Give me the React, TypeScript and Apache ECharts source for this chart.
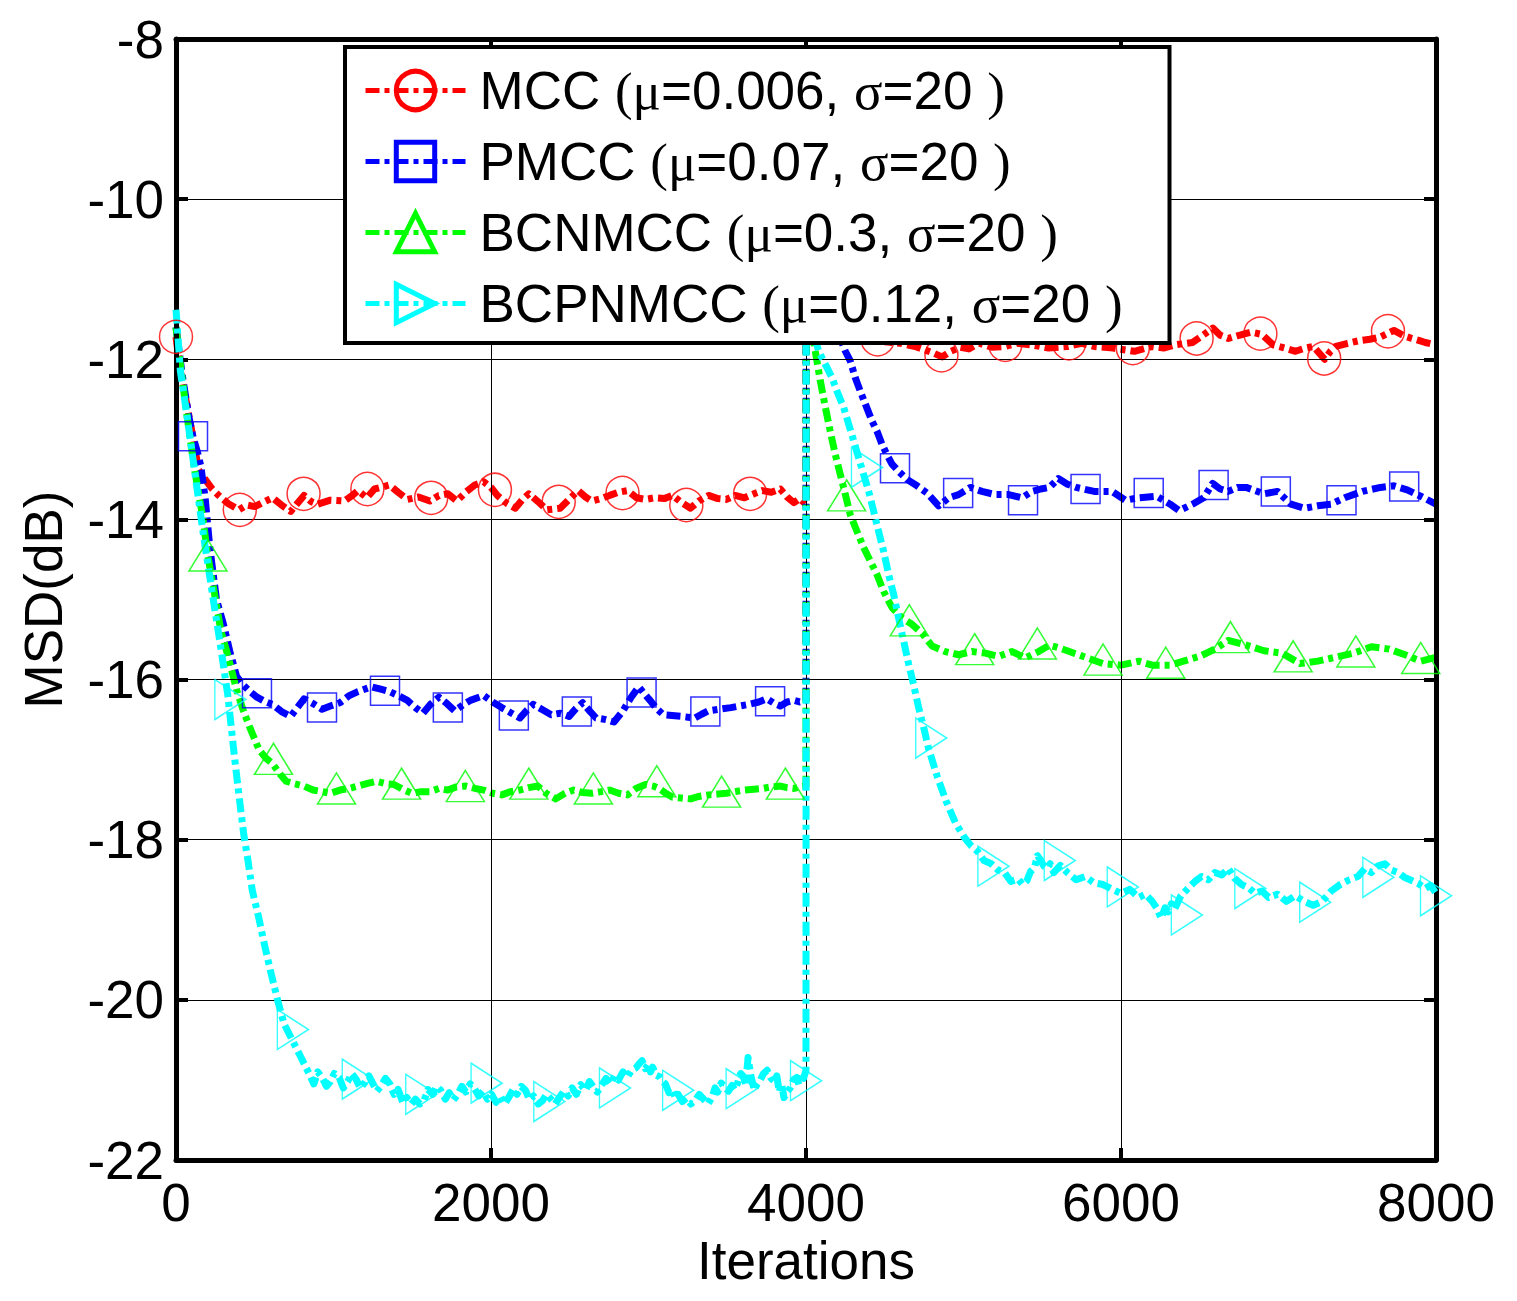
import React, { useEffect, useRef } from 'react';
import * as echarts from 'echarts';

const SERIES_NAMES = [
  'MCC (μ=0.006, σ=20 )',
  'PMCC (μ=0.07, σ=20 )',
  'BCNMCC (μ=0.3, σ=20 )',
  'BCPNMCC (μ=0.12, σ=20 )',
];
const COLORS = ['#ff0000', '#0000ff', '#00ff00', '#00ffff'];
const X_MIN = 0;
const X_MAX = 8000;
const X_STEP = 2000;
const Y_MIN = -22;
const Y_MAX = -8;
const Y_STEP = 2;
const X_NAME = 'Iterations';
const Y_NAME = 'MSD(dB)';

const MCC_CURVE: number[][] = [
  [0, -11.72], [28, -12.15], [71, -12.59], [110, -13.0], [143, -13.38], [185, -13.5], [230, -13.62], [271, -13.7],
  [330, -13.8], [400, -13.88], [450, -13.82], [500, -13.84], [560, -13.78], [613, -13.73], [670, -13.82], [728, -13.9],
  [770, -13.8], [813, -13.7], [860, -13.78], [899, -13.81], [980, -13.76], [1070, -13.77], [1120, -13.7], [1155, -13.64],
  [1212, -13.73], [1260, -13.62], [1300, -13.6], [1355, -13.57], [1410, -13.66], [1469, -13.75], [1540, -13.72],
  [1612, -13.77], [1670, -13.7], [1726, -13.68], [1783, -13.77], [1840, -13.66], [1897, -13.57], [1954, -13.53],
  [2000, -13.6], [2040, -13.7], [2100, -13.8], [2154, -13.86], [2200, -13.75], [2240, -13.68], [2300, -13.78],
  [2354, -13.88], [2439, -13.86], [2500, -13.74], [2553, -13.64], [2600, -13.72], [2639, -13.77], [2700, -13.74],
  [2753, -13.7], [2810, -13.66], [2867, -13.64], [2924, -13.73], [2980, -13.75], [3038, -13.73], [3100, -13.74],
  [3153, -13.7], [3210, -13.79], [3267, -13.86], [3320, -13.77], [3381, -13.7], [3440, -13.74], [3495, -13.75],
  [3550, -13.7], [3609, -13.73], [3670, -13.68], [3723, -13.64], [3780, -13.66], [3837, -13.62], [3880, -13.72],
  [3923, -13.79], [3960, -13.74], [4000, -13.81],
  [4001, -10.6], [4050, -10.9], [4100, -11.15], [4200, -11.45], [4300, -11.62], [4400, -11.72], [4500, -11.78],
  [4600, -11.8], [4693, -11.84], [4750, -11.88], [4807, -11.92], [4864, -11.97], [4920, -11.9], [4980, -11.85],
  [5034, -11.87], [5100, -11.8], [5180, -11.85], [5261, -11.84], [5340, -11.8], [5432, -11.82], [5540, -11.86],
  [5659, -11.84], [5750, -11.8], [5830, -11.84], [5950, -11.86], [6085, -11.9], [6199, -11.84], [6270, -11.86],
  [6341, -11.82], [6455, -11.79], [6520, -11.7], [6583, -11.61], [6630, -11.7], [6682, -11.74], [6750, -11.7],
  [6824, -11.66], [6895, -11.69], [6966, -11.82], [7040, -11.86], [7108, -11.9], [7170, -11.86], [7222, -11.84],
  [7293, -12.0], [7330, -11.9], [7364, -11.84], [7440, -11.8], [7506, -11.77], [7580, -11.75], [7648, -11.72],
  [7700, -11.67], [7733, -11.64], [7790, -11.7], [7847, -11.74], [7900, -11.77], [7932, -11.79], [8000, -11.82],
];

const PMCC_CURVE: number[][] = [
  [0, -11.6], [40, -12.2], [80, -12.7], [108, -12.97], [135, -13.15], [157, -13.33], [185, -13.73], [214, -14.34],
  [257, -15.0], [300, -15.3], [342, -15.65], [385, -15.96], [428, -16.07], [470, -16.15], [514, -16.22], [560, -16.27],
  [613, -16.31], [670, -16.4], [728, -16.46], [770, -16.35], [813, -16.24], [870, -16.3], [927, -16.37], [980, -16.33],
  [1041, -16.29], [1100, -16.2], [1155, -16.15], [1241, -16.09], [1300, -16.12], [1355, -16.15], [1410, -16.2],
  [1469, -16.26], [1520, -16.35], [1569, -16.42], [1620, -16.3], [1669, -16.22], [1720, -16.3], [1769, -16.39],
  [1820, -16.32], [1869, -16.26], [1954, -16.2], [2010, -16.28], [2068, -16.35], [2130, -16.42], [2183, -16.48],
  [2230, -16.38], [2268, -16.31], [2330, -16.38], [2382, -16.44], [2440, -16.42], [2496, -16.46], [2540, -16.36],
  [2582, -16.29], [2630, -16.4], [2667, -16.48], [2730, -16.5], [2781, -16.53], [2838, -16.39], [2890, -16.22],
  [2938, -16.09], [2975, -16.18], [3010, -16.26], [3050, -16.36], [3095, -16.44], [3150, -16.45], [3210, -16.46],
  [3250, -16.47], [3295, -16.48], [3340, -16.43], [3381, -16.39], [3450, -16.37], [3523, -16.35], [3580, -16.33],
  [3638, -16.31], [3700, -16.28], [3752, -16.24], [3800, -16.3], [3837, -16.33], [3880, -16.28], [3923, -16.26],
  [3960, -16.28], [4000, -16.26],
  [4001, -10.5], [4050, -10.8], [4100, -11.1], [4150, -11.4], [4200, -11.65], [4250, -11.9], [4281, -12.02],
  [4313, -12.23], [4345, -12.4], [4377, -12.56], [4419, -12.77], [4451, -12.9], [4482, -13.06], [4514, -13.19],
  [4546, -13.31], [4588, -13.4], [4641, -13.5], [4705, -13.58], [4768, -13.67], [4842, -13.83], [4906, -13.73],
  [4969, -13.69], [5043, -13.6], [5117, -13.65], [5202, -13.69], [5287, -13.69], [5371, -13.73], [5435, -13.65],
  [5490, -13.62], [5546, -13.6], [5602, -13.49], [5660, -13.56], [5716, -13.6], [5830, -13.65], [5943, -13.65],
  [6028, -13.76], [6113, -13.73], [6227, -13.71], [6312, -13.81], [6369, -13.89], [6454, -13.81], [6525, -13.73],
  [6582, -13.55], [6630, -13.62], [6681, -13.65], [6740, -13.6], [6795, -13.6], [6908, -13.68], [6993, -13.65],
  [7079, -13.81], [7164, -13.86], [7249, -13.83], [7334, -13.81], [7420, -13.73], [7533, -13.65], [7648, -13.6],
  [7733, -13.58], [7817, -13.63], [7902, -13.71], [8000, -13.81],
];

const BCNMCC_CURVE: number[][] = [
  [0, -11.6], [28, -12.07], [71, -12.72], [114, -13.33], [171, -13.99], [200, -14.43], [243, -14.91], [285, -15.39],
  [328, -15.69], [385, -16.13], [430, -16.4], [471, -16.61], [528, -16.88], [570, -16.98], [613, -17.05], [660, -17.18],
  [699, -17.27], [750, -17.3], [813, -17.33], [870, -17.38], [927, -17.4], [980, -17.42], [1041, -17.38], [1100, -17.36],
  [1155, -17.33], [1210, -17.3], [1270, -17.27], [1330, -17.3], [1384, -17.31], [1440, -17.37], [1498, -17.42],
  [1555, -17.4], [1612, -17.4], [1670, -17.36], [1726, -17.38], [1780, -17.34], [1840, -17.33], [1900, -17.36],
  [1954, -17.38], [2010, -17.42], [2068, -17.44], [2125, -17.4], [2183, -17.38], [2240, -17.35], [2297, -17.33],
  [2350, -17.42], [2411, -17.49], [2470, -17.42], [2525, -17.38], [2580, -17.41], [2639, -17.42], [2700, -17.4],
  [2753, -17.38], [2810, -17.42], [2867, -17.44], [2920, -17.36], [2981, -17.31], [3030, -17.33], [3067, -17.36],
  [3110, -17.42], [3153, -17.47], [3210, -17.48], [3267, -17.49], [3320, -17.46], [3381, -17.44], [3440, -17.43],
  [3495, -17.42], [3550, -17.4], [3609, -17.38], [3670, -17.37], [3723, -17.36], [3780, -17.34], [3837, -17.33],
  [3880, -17.35], [3923, -17.36], [3960, -17.34], [4000, -17.33],
  [4001, -11.2], [4030, -11.55], [4059, -11.9], [4091, -12.27], [4123, -12.6], [4154, -12.9], [4186, -13.19],
  [4218, -13.44], [4250, -13.69], [4281, -13.94], [4324, -14.15], [4366, -14.35], [4408, -14.52], [4451, -14.69],
  [4493, -14.9], [4546, -15.1], [4609, -15.23], [4673, -15.31], [4736, -15.42], [4800, -15.58], [4884, -15.65],
  [4969, -15.69], [5054, -15.65], [5138, -15.67], [5223, -15.71], [5308, -15.65], [5392, -15.73], [5477, -15.65],
  [5546, -15.57], [5600, -15.6], [5659, -15.64], [5772, -15.72], [5886, -15.8], [6000, -15.82], [6113, -15.77],
  [6198, -15.82], [6312, -15.82], [6397, -15.77], [6511, -15.7], [6596, -15.62], [6681, -15.51], [6795, -15.57],
  [6908, -15.64], [7022, -15.67], [7136, -15.8], [7249, -15.77], [7363, -15.72], [7476, -15.67], [7590, -15.59],
  [7703, -15.62], [7817, -15.7], [7902, -15.77], [8000, -15.72],
];

const BCPNMCC_CURVE: number[][] = [
  [0, -11.38], [28, -12.15], [71, -12.72], [114, -13.33], [150, -13.85], [185, -14.34], [215, -14.72], [243, -15.08],
  [285, -15.61], [328, -16.18], [371, -16.96], [400, -17.45], [430, -17.93], [457, -18.26], [484, -18.63],
  [525, -18.97], [565, -19.34], [605, -19.68], [646, -20.01], [686, -20.3], [740, -20.51], [794, -20.72],
  [847, -20.93], [875, -21.05], [900, -20.9], [928, -20.97], [955, -21.08], [980, -21.02], [1005, -20.92],
  [1036, -20.97], [1062, -21.1], [1090, -21.02], [1115, -20.92], [1143, -20.99], [1170, -21.1], [1200, -21.03],
  [1225, -20.95], [1251, -21.05], [1275, -21.14], [1300, -21.08], [1330, -20.98], [1358, -21.05], [1385, -21.18],
  [1410, -21.12], [1440, -21.28], [1466, -21.22], [1495, -21.3], [1520, -21.24], [1548, -21.3], [1574, -21.26],
  [1600, -21.12], [1630, -21.18], [1655, -21.08], [1681, -21.13], [1710, -21.24], [1735, -21.16], [1762, -21.25],
  [1789, -21.18], [1815, -21.08], [1840, -21.15], [1868, -21.05], [1896, -21.11], [1922, -21.2], [1950, -21.14],
  [1977, -21.24], [2004, -21.18], [2032, -21.28], [2060, -21.2], [2086, -21.3], [2112, -21.22], [2140, -21.12],
  [2165, -21.18], [2192, -21.08], [2219, -21.13], [2245, -21.25], [2270, -21.2], [2300, -21.3], [2327, -21.26],
  [2352, -21.18], [2380, -21.24], [2407, -21.3], [2434, -21.22], [2462, -21.14], [2490, -21.2], [2515, -21.1],
  [2542, -21.18], [2570, -21.06], [2600, -21.13], [2625, -21.02], [2650, -21.09], [2675, -21.15], [2700, -21.07],
  [2730, -20.98], [2757, -21.05], [2785, -20.95], [2810, -21.0], [2838, -20.9], [2865, -20.97], [2892, -20.88],
  [2920, -20.85], [2940, -20.8], [2959, -20.76], [2980, -20.86], [3000, -20.8], [3013, -20.9], [3026, -20.84],
  [3048, -20.94], [3070, -20.96], [3090, -21.02], [3107, -21.05], [3130, -21.16], [3150, -21.12], [3170, -21.22],
  [3188, -21.18], [3215, -21.27], [3240, -21.23], [3268, -21.3], [3295, -21.26], [3322, -21.18], [3350, -21.24],
  [3378, -21.3], [3403, -21.22], [3422, -21.1], [3440, -21.15], [3462, -21.04], [3484, -21.09], [3508, -21.14],
  [3530, -21.07], [3548, -21.12], [3564, -21.05], [3585, -20.92], [3600, -20.95], [3618, -21.05], [3632, -20.72],
  [3650, -20.95], [3672, -21.13], [3690, -21.05], [3710, -21.0], [3730, -20.92], [3753, -20.88], [3778, -20.98],
  [3800, -21.02], [3815, -20.95], [3830, -21.15], [3845, -21.05], [3860, -21.22], [3880, -21.15], [3900, -21.1],
  [3920, -21.0], [3941, -20.97], [3955, -21.06], [3970, -20.92], [3985, -20.98], [4000, -20.88],
  [4001, -11.3], [4040, -11.6], [4080, -11.9], [4112, -12.02], [4165, -12.23], [4197, -12.4], [4239, -12.6],
  [4271, -12.81], [4303, -13.02], [4334, -13.23], [4366, -13.44], [4398, -13.65], [4430, -13.9], [4461, -14.15],
  [4493, -14.4], [4525, -14.69], [4557, -14.94], [4588, -15.23], [4620, -15.52], [4652, -15.81], [4683, -16.06],
  [4715, -16.35], [4750, -16.62], [4778, -16.86], [4835, -17.22], [4892, -17.53], [4949, -17.79], [5005, -17.97],
  [5050, -18.08], [5091, -18.15], [5130, -18.26], [5176, -18.3], [5220, -18.38], [5261, -18.41], [5300, -18.52],
  [5346, -18.49], [5375, -18.56], [5403, -18.51], [5425, -18.4], [5450, -18.35], [5470, -18.2], [5488, -18.25],
  [5510, -18.33], [5530, -18.36], [5550, -18.3], [5573, -18.41], [5615, -18.32], [5659, -18.41], [5715, -18.5],
  [5772, -18.46], [5830, -18.54], [5886, -18.56], [5945, -18.62], [6000, -18.67], [6055, -18.62], [6113, -18.72],
  [6155, -18.68], [6198, -18.77], [6225, -18.85], [6255, -18.98], [6280, -18.85], [6300, -18.9], [6320, -18.8],
  [6340, -18.87], [6380, -18.7], [6425, -18.61], [6470, -18.52], [6511, -18.46], [6555, -18.5], [6596, -18.41],
  [6640, -18.44], [6681, -18.36], [6720, -18.48], [6766, -18.56], [6810, -18.6], [6851, -18.67], [6895, -18.64],
  [6937, -18.72], [6995, -18.68], [7050, -18.77], [7105, -18.7], [7164, -18.77], [7220, -18.82], [7277, -18.77],
  [7335, -18.64], [7391, -18.56], [7450, -18.5], [7504, -18.46], [7548, -18.36], [7590, -18.41], [7630, -18.33],
  [7675, -18.3], [7718, -18.38], [7760, -18.41], [7800, -18.47], [7845, -18.51], [7890, -18.55], [7931, -18.61],
  [7965, -18.57], [8000, -18.67],
];

const MCC_MARKERS: number[][] = [
  [0, -11.72], [405, -13.88], [810, -13.68], [1215, -13.62], [1620, -13.73], [2025, -13.63], [2430, -13.78],
  [2835, -13.67], [3240, -13.82], [3645, -13.68], [4050, -10.9], [4455, -11.75], [4860, -11.95], [5265, -11.82],
  [5670, -11.8], [6075, -11.86], [6480, -11.74], [6885, -11.68], [7290, -11.99], [7695, -11.65],
];
const PMCC_MARKERS: number[][] = [
  [108, -12.96], [514, -16.17], [927, -16.35], [1327, -16.14], [1726, -16.35], [2145, -16.45], [2545, -16.4],
  [2956, -16.16], [3361, -16.4], [3772, -16.27], [4163, -11.45], [4565, -13.36], [4966, -13.67], [5378, -13.76],
  [5775, -13.62], [6176, -13.67], [6588, -13.57], [6983, -13.65], [7400, -13.76], [7798, -13.59],
];
const BCNMCC_MARKERS: number[][] = [
  [203, -14.45], [619, -16.99], [1019, -17.36], [1432, -17.3], [1837, -17.33], [2240, -17.3], [2650, -17.36],
  [3053, -17.27], [3464, -17.4], [3869, -17.3], [4258, -13.7], [4656, -15.26], [5071, -15.62], [5469, -15.55],
  [5886, -15.75], [6284, -15.79], [6695, -15.47], [7093, -15.71], [7491, -15.65], [7903, -15.73],
];
const BCPNMCC_MARKERS: number[][] = [
  [345, -16.25], [742, -20.37], [1154, -20.99], [1557, -21.18], [1972, -21.04], [2370, -21.27], [2787, -21.1],
  [3188, -21.13], [3591, -21.11], [4000, -21.01], [4387, -13.35], [4795, -16.73], [5190, -18.33], [5611, -18.26],
  [6011, -18.59], [6418, -18.94], [6821, -18.61], [7233, -18.78], [7634, -18.47], [8000, -18.7],
];

const CURVES = [MCC_CURVE, PMCC_CURVE, BCNMCC_CURVE, BCPNMCC_CURVE];
const MARKERS = [MCC_MARKERS, PMCC_MARKERS, BCNMCC_MARKERS, BCPNMCC_MARKERS];
const SYMBOLS = ['circle', 'rect', 'triangle', 'triangle'];
const SYMBOL_ROTATE = [0, 0, 0, -90];
const SYMBOL_SIZES: number[][] = [[33, 33], [29, 29], [38, 31], [40, 31]];

const FONT = 'Liberation Sans';
const SERIF = 'Liberation Serif';
const FS = 53;

function legendFormatter(name: string): string {
  return name
    .split(/([μσ()])/)
    .filter((p) => p.length > 0)
    .map((p) => (/[μσ()]/.test(p) ? `{g|${p}}` : `{t|${p}}`))
    .join('');
}

export default function App() {
  const ref = useRef<HTMLDivElement>(null);

  useEffect(() => {
    if (!ref.current) return;
    const chart = echarts.init(ref.current, undefined, { renderer: 'svg' });

    const axisLine = { show: true, onZero: false, lineStyle: { color: '#000', width: 5 } };
    const axisTick = { show: true, inside: true, length: 12, lineStyle: { color: '#000', width: 4 } };
    const labelStyle = { fontSize: FS, color: '#000', fontFamily: FONT };

    const lineSeries = CURVES.map((curve, i) => ({
      type: 'line',
      name: SERIES_NAMES[i],
      data: curve,
      showSymbol: false,
      symbol: SYMBOLS[i],
      symbolRotate: SYMBOL_ROTATE[i],
      itemStyle: { color: COLORS[i] },
      lineStyle: { color: COLORS[i], width: 7, type: [14, 5, 5, 5], cap: 'butt', join: 'round' },
      z: 2 + i,
      silent: true,
      animation: false,
    }));

    const markerSeries = MARKERS.map((mk, i) => ({
      type: 'scatter',
      name: 'marker-' + i,
      data: mk,
      symbol: SYMBOLS[i],
      symbolRotate: SYMBOL_ROTATE[i],
      symbolSize: SYMBOL_SIZES[i],
      itemStyle: { color: 'rgba(0,0,0,0)', borderColor: COLORS[i], borderWidth: 1.5 },
      clip: false,
      z: 10,
      silent: true,
      animation: false,
    }));

    chart.setOption({
      animation: false,
      backgroundColor: '#ffffff',
      grid: { left: 176, top: 39, width: 1260, height: 1121, containLabel: false, outerBoundsMode: 'none' },
      legend: {
        show: true,
        orient: 'vertical',
        left: 345,
        top: 47,
        padding: [17, 0, 13, 18],
        itemGap: 18,
        itemWidth: 100,
        itemHeight: 48,
        selectedMode: false,
        backgroundColor: '#ffffff',
        borderColor: '#000000',
        borderWidth: 4,
        z: 20,
        data: SERIES_NAMES.map((n, i) => ({
          name: n,
          itemStyle: { color: 'rgba(0,0,0,0)', borderColor: COLORS[i], borderWidth: 5 },
          lineStyle: { color: COLORS[i], width: 5 },
        })),
        formatter: legendFormatter,
        textStyle: {
          width: 690,
          padding: [0, 0, 0, 9],
          lineHeight: 48,
          color: '#000',
          fontSize: FS,
          fontFamily: FONT,
          rich: {
            t: { fontSize: FS, fontFamily: FONT, color: '#000', lineHeight: 48 },
            g: { fontSize: FS, fontFamily: SERIF, color: '#000', lineHeight: 48 },
          },
        },
      },
      xAxis: [
        {
          type: 'value',
          min: X_MIN,
          max: X_MAX,
          interval: X_STEP,
          position: 'bottom',
          name: X_NAME,
          nameLocation: 'middle',
          nameGap: 73,
          nameTextStyle: labelStyle,
          axisLine,
          axisTick,
          axisLabel: { ...labelStyle, margin: 16, formatter: (v: number) => String(v) },
          splitLine: { show: true, lineStyle: { color: '#000', width: 1 } },
          z: 5,
        },
        {
          type: 'value',
          min: X_MIN,
          max: X_MAX,
          interval: X_STEP,
          position: 'top',
          axisLine,
          axisTick,
          axisLabel: { show: false },
          splitLine: { show: false },
          z: 5,
        },
      ],
      yAxis: [
        {
          type: 'value',
          min: Y_MIN,
          max: Y_MAX,
          interval: Y_STEP,
          position: 'left',
          name: Y_NAME,
          nameLocation: 'middle',
          nameGap: 106,
          nameRotate: 90,
          nameTextStyle: labelStyle,
          axisLine,
          axisTick,
          axisLabel: { ...labelStyle, margin: 12, formatter: (v: number) => String(v) },
          splitLine: { show: true, lineStyle: { color: '#000', width: 1 } },
          z: 5,
        },
        {
          type: 'value',
          min: Y_MIN,
          max: Y_MAX,
          interval: Y_STEP,
          position: 'right',
          axisLine,
          axisTick,
          axisLabel: { show: false },
          splitLine: { show: false },
          z: 5,
        },
      ],
      series: [...lineSeries, ...markerSeries],
    });

    return () => {
      chart.dispose();
    };
  }, []);

  return (
    <div
      ref={ref}
      style={{ position: 'fixed', left: 0, top: 0, width: 1517, height: 1301, background: '#fff' }}
    />
  );
}
